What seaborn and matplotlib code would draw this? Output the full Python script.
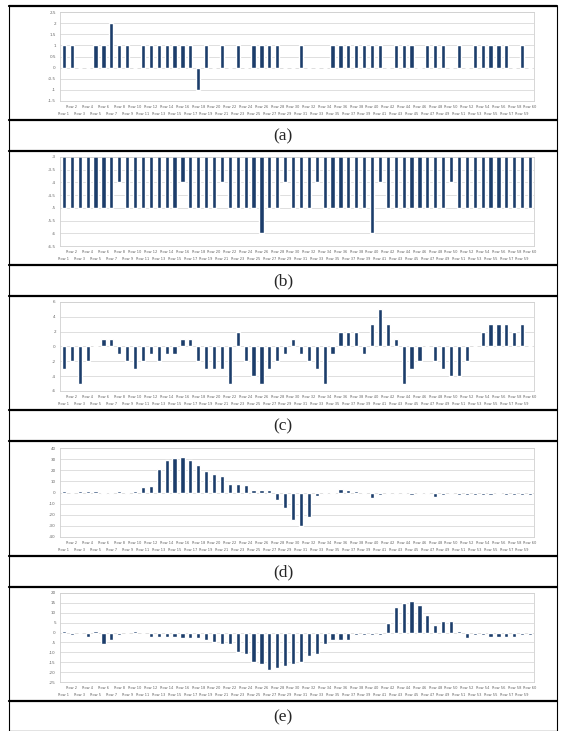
import matplotlib
matplotlib.use("Agg")
import matplotlib.pyplot as plt
import seaborn as sns
from matplotlib.lines import Line2D

# row names on the x axis
rows = [f"Row {i}" for i in range(1, 61)]

vals_a = [1, 1, 0, 0, 1, 1, 2, 1, 1, 0,
          1, 1, 1, 1, 1, 1, 1, -1, 1, 0,
          1, 0, 1, 0, 1, 1, 1, 1, 0, 0,
          1, 0, 0, 0, 1, 1, 1, 1, 1, 1,
          1, 0, 1, 1, 1, 0, 1, 1, 1, 0,
          1, 0, 1, 1, 1, 1, 1, 0, 1, 0]

vals_b = [-5, -5, -5, -5, -5, -5, -5, -4, -5, -5,
          -5, -5, -5, -5, -5, -4, -5, -5, -5, -5,
          -4, -5, -5, -5, -5, -6, -5, -5, -4, -5,
          -5, -5, -4, -5, -5, -5, -5, -5, -5, -6,
          -4, -5, -5, -5, -5, -5, -5, -5, -5, -4,
          -5, -5, -5, -5, -5, -5, -5, -5, -5, -5]

vals_c = [-3, -2, -5, -2, 0, 1, 1, -1, -2, -3,
          -2, -1, -2, -1, -1, 1, 1, -2, -3, -3,
          -3, -5, 2, -2, -4, -5, -3, -2, -1, 1,
          -1, -2, -3, -5, -1, 2, 2, 2, -1, 3,
          5, 3, 1, -5, -3, -2, 0, -2, -3, -4,
          -4, -2, 0, 2, 3, 3, 3, 2, 3, 0]

vals_d = [1, 0, 1, 1, 1, -1, -1, 1, -1, 1,
          5, 6, 21, 29, 31, 32, 29, 25, 19, 17,
          15, 8, 8, 7, 2, 2, 2, -7, -14, -25,
          -30, -22, -3, -1, -1, 3, 2, 1, -1, -5,
          -2, -1, -1, -1, -2, -1, -1, -4, -2, -1,
          -2, -2, -2, -2, -2, -1, -2, -2, -2, -2]

vals_e = [1, -1, 0, -2, 1, -6, -4, -1, 0, 1,
          0, -2, -2, -2, -2, -3, -3, -3, -4, -5,
          -6, -6, -10, -11, -15, -16, -19, -18, -17, -16,
          -15, -12, -11, -6, -4, -4, -4, -1, -1, -1,
          -1, 5, 13, 15, 16, 14, 9, 4, 6, 6,
          1, -3, -1, -1, -2, -2, -2, -2, -1, -1]

panel_labels = ["(a)", "(b)", "(c)", "(d)", "(e)"]
ylims = [(-1.5, 2.5), (-6.5, -3), (-6, 6), (-40, 40), (-25, 20)]
ysteps = [0.5, 0.5, 2, 10, 5]

W, H = 566, 731
bar_color = "#1c3d6b"
tick_grey = "#666666"

sns.set_style("white")
fig = plt.figure(figsize=(W / 100, H / 100), dpi=100)


def px_axes(x0, y0, x1, y1):
    return fig.add_axes([x0 / W, 1 - y1 / H, (x1 - x0) / W, (y1 - y0) / H])


# table rows: chart cell then label cell, in pixels from the top
cell_tops = [6, 151, 296, 442, 587]
chart_h = 114
label_h = 31

for k, (vals, lim, step) in enumerate(zip([vals_a, vals_b, vals_c, vals_d, vals_e],
                                          ylims, ysteps)):
    top = cell_tops[k]
    ax = px_axes(60, top + 6, 534, top + 95)
    sns.barplot(x=rows, y=vals, ax=ax, color=bar_color, width=0.52,
                saturation=1, errorbar=None)
    lo, hi = lim
    n = int(round((hi - lo) / step))
    ticks = [round(lo + i * step, 2) for i in range(n + 1)]
    ax.set_ylim(lo, hi)
    ax.set_yticks(ticks)
    ax.set_yticklabels([f"{t:g}" for t in ticks], fontsize=3, color=tick_grey)
    ax.yaxis.grid(True, color="#d9d9d9", linewidth=0.6)
    ax.set_axisbelow(True)
    ax.set_xlim(-0.5, 59.5)

    # staggered category labels: even rows on top line, odd rows below
    ax.set_xticks(range(1, 60, 2))
    ax.set_xticklabels(rows[1::2], fontsize=2.6, color=tick_grey)
    ax.set_xticks(range(0, 60, 2), minor=True)
    ax.set_xticklabels(rows[0::2], minor=True, fontsize=2.6, color=tick_grey)
    ax.tick_params(axis="x", which="major", length=1.2, width=0.4, pad=2.0, color="#bbbbbb")
    ax.tick_params(axis="x", which="minor", length=1.2, width=0.4, pad=6.5, color="#bbbbbb")
    ax.tick_params(axis="y", length=1.2, width=0.4, pad=1.8, color="#bbbbbb")
    ax.set_xlabel("")
    ax.set_ylabel("")
    for sp in ax.spines.values():
        sp.set_color("#d0d0d0")
        sp.set_linewidth(0.6)

    # label cell text
    fig.text(283 / W, 1 - (top + chart_h + label_h / 2 + 1) / H, panel_labels[k],
             ha="center", va="center", fontsize=12.5, family="Liberation Serif")

# table frame lines
hlines = [6]
for top in cell_tops:
    hlines += [top + chart_h, top + chart_h + label_h]
for y in hlines:
    fig.add_artist(Line2D([9 / W, 557 / W], [1 - y / H, 1 - y / H],
                          color="black", linewidth=1.6))
for x in [9, 557]:
    fig.add_artist(Line2D([x / W, x / W], [1 - 6 / H, 0], color="black", linewidth=0.8))

fig.savefig("out.png", dpi=100)
